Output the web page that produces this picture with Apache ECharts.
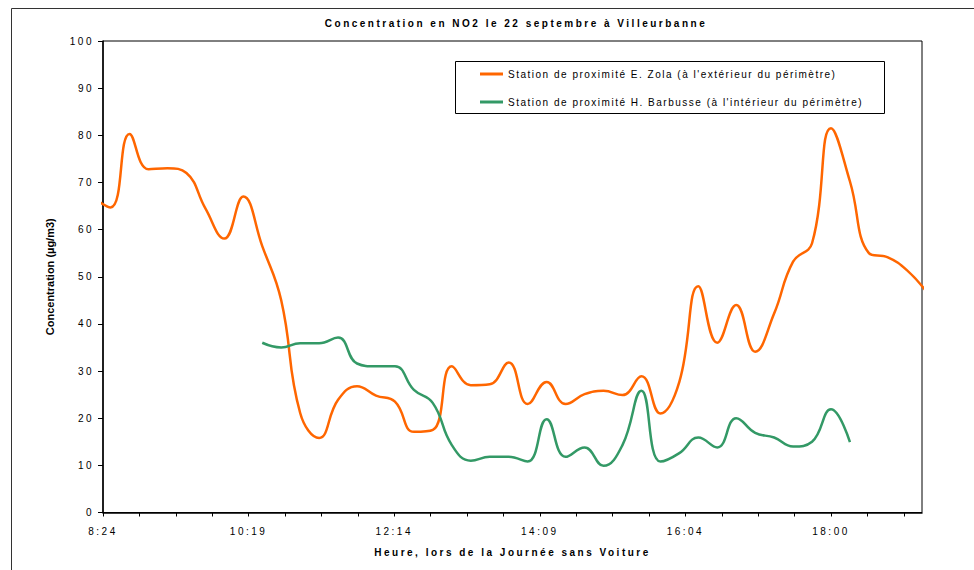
<!DOCTYPE html>
<html>
<head>
<meta charset="utf-8">
<script src="https://cdn.jsdelivr.net/npm/echarts@6/dist/echarts.min.js"></script>
<style>
html,body{margin:0;padding:0;background:#fff;}
#chart{width:974px;height:570px;}
/* Excel-like letter spacing of the original picture */
#chart text{letter-spacing:2.5px;}
#chart text[style*="10.02px"]{letter-spacing:1.5px;}
#chart text[style*="11.01px"]{letter-spacing:0;}
</style>
</head>
<body>
<div id="chart"></div>
<script>
// Quarter-hour measurement times
var times = ['8:15','8:30','8:45','9:00','9:15','9:30','9:45','10:00','10:15','10:30',
  '10:45','11:00','11:15','11:30','11:45','12:00','12:15','12:30','12:45','13:00',
  '13:15','13:30','13:45','14:00','14:15','14:30','14:45','15:00','15:15','15:30',
  '15:45','16:00','16:15','16:30','16:45','17:00','17:15','17:30','17:45','18:00',
  '18:15','18:30','18:45','19:00','19:15'];

// Station de proximité E. Zola (µg/m3)
var zola = [67, 64.7, 80.3, 72.8, 73, 72, 64.5, 58.1, 67, 56.5,
  45, 21.1, 15.8, 23.9, 26.8, 24.8, 23.5, 17.1, 17.5, 31,
  27, 27.2, 31.8, 23, 27.7, 23, 25.1, 25.8, 24.9, 28.9,
  21, 27.7, 48, 36, 44, 34.1, 42.2, 53.2, 57.1, 81.5,
  70.2, 55, 54.1, 51.4, 47];

// Station de proximité H. Barbusse (µg/m3)
var barbusse = [null, null, null, null, null, null, null, null, null, 36,
  35, 35.9, 35.9, 37.1, 31.6, 31, 31, 26, 23.2, 14.3,
  11, 11.8, 11.8, 10.8, 19.8, 11.8, 13.8, 9.9, 14.3, 25.8,
  10.8, 12.6, 15.9, 13.8, 20, 16.9, 15.9, 14, 15, 21.9,
  14.9, null, null, null, null];

// x-axis tick labels (every 0.08 day from 8:24)
var xTickLabels = ['8:24', '10:19', '12:14', '14:09', '16:04', '18:00'];

var seriesNames = ['Station de proximité E. Zola (à l\'extérieur du périmètre)',
                   'Station de proximité H. Barbusse (à l\'intérieur du périmètre)'];

var AXIS_START = 8 * 60 + 24; // minutes of day at axis origin
function toOffset(t) {
  var p = t.split(':');
  return (+p[0]) * 60 + (+p[1]) - AXIS_START;
}
function pairs(vals) {
  return times.map(function (t, i) { return [toOffset(t), vals[i]]; });
}

var FONT = 'Liberation Sans';
var chart = echarts.init(document.getElementById('chart'), null, {renderer: 'svg'});
chart.setOption({
  animation: false,
  backgroundColor: '#fff',
  title: {
    text: 'Concentration en NO2 le 22 septembre à Villeurbanne',
    left: 511, top: 13, textAlign: 'center',
    textStyle: {fontFamily: FONT, fontSize: 10, fontWeight: 'bold', color: '#000'}
  },
  graphic: [
    {type: 'rect', shape: {x: 11.5, y: 8.5, width: 1000, height: 600},
     style: {fill: 'none', stroke: '#333', lineWidth: 1}, silent: true},
    {type: 'rect', shape: {x: 455.5, y: 61.5, width: 429, height: 52},
     style: {fill: 'none', stroke: '#000', lineWidth: 1}, silent: true, z: 10}
  ],
  legend: {
    orient: 'vertical', left: 480, top: 69, padding: 0,
    icon: 'rect', itemWidth: 23, itemHeight: 3, itemGap: 18,
    textStyle: {fontFamily: FONT, fontSize: 10.02, color: '#000'},
    data: seriesNames
  },
  grid: {left: 103, right: 52, top: 41, bottom: 57.5, show: true,
         borderColor: '#000', borderWidth: 1, backgroundColor: 'transparent'},
  xAxis: {
    type: 'value', min: 0, max: 648, interval: 28.8,
    name: 'Heure, lors de la Journée sans Voiture',
    nameLocation: 'middle', nameGap: 35,
    nameTextStyle: {fontFamily: FONT, fontSize: 10, fontWeight: 'bold', color: '#000'},
    axisLine: {show: true, onZero: false, lineStyle: {color: '#000', width: 1.5}},
    axisTick: {show: true, inside: false, length: 4, lineStyle: {color: '#000'}},
    axisLabel: {
      fontFamily: FONT, fontSize: 10, color: '#000', margin: 14,
      showMinLabel: true, showMaxLabel: false,
      formatter: function (v) {
        var idx = Math.round(v / 28.8);
        if (idx % 4 === 0 && xTickLabels[idx / 4] !== undefined) return xTickLabels[idx / 4];
        return '';
      }
    },
    splitLine: {show: false}
  },
  yAxis: {
    type: 'value', min: 0, max: 100, interval: 10,
    name: 'Concentration (µg/m3)',
    nameLocation: 'middle', nameGap: 48, nameRotate: 90,
    nameTextStyle: {fontFamily: 'Liberation Sans Narrow, Liberation Sans', fontSize: 11.01, fontWeight: 'bold', color: '#000'},
    axisLine: {show: true, lineStyle: {color: '#000', width: 1.5}},
    axisTick: {show: true, inside: false, length: 5, lineStyle: {color: '#000'}},
    axisLabel: {fontFamily: FONT, fontSize: 10, color: '#000', margin: 9},
    splitLine: {show: false}
  },
  series: [
    {name: seriesNames[0], type: 'line', data: pairs(zola), smooth: 0.45,
     showSymbol: false, symbol: 'none', clip: true,
     lineStyle: {color: '#FF6600', width: 2.5}, itemStyle: {color: '#FF6600'}},
    {name: seriesNames[1], type: 'line', data: pairs(barbusse), smooth: 0.45,
     showSymbol: false, symbol: 'none', clip: true, connectNulls: false,
     lineStyle: {color: '#339966', width: 2.5}, itemStyle: {color: '#339966'}}
  ]
});
</script>
</body>
</html>
